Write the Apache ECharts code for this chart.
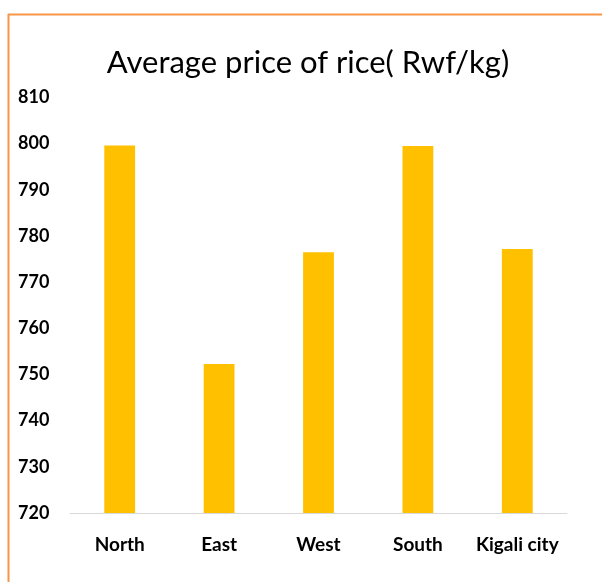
<!DOCTYPE html>
<html>
<head>
<meta charset="utf-8">
<script src="https://cdn.jsdelivr.net/npm/echarts@6/dist/echarts.min.js"></script>
<style>
  html, body { margin: 0; padding: 0; background: #fff; }
  #main { width: 602px; height: 582px; }
</style>
</head>
<body>
<div id="main"></div>
<script>
// regions and average rice price (Rwf/kg)
const regions = ['North', 'East', 'West', 'South', 'Kigali city'];
const prices = [799.6, 752.3, 776.5, 799.5, 777.2];

const chart = echarts.init(document.getElementById('main'));

const option = {
    backgroundColor: '#fff',
    animation: false,
    title: {
        text: 'Average price of rice( Rwf/kg)',
        left: 303,
        top: 42,
        textAlign: 'center',
        textStyle: {
            fontFamily: 'Lato',
            fontWeight: 'normal',
            fontSize: 31,
            color: '#000'
        }
    },
    // orange frame on top and left
    graphic: [
        { type: 'line', shape: { x1: 8, y1: 14.5, x2: 602, y2: 14.5 }, style: { stroke: '#F79646', lineWidth: 2 } },
        { type: 'line', shape: { x1: 8.5, y1: 14, x2: 8.5, y2: 582 }, style: { stroke: '#F79646', lineWidth: 2 } }
    ],
    grid: {
        left: 70,
        right: 35,
        top: 97.5,
        bottom: 69
    },
    xAxis: {
        type: 'category',
        data: regions,
        axisLine: { lineStyle: { color: '#d9d9d9', width: 1 } },
        axisTick: { show: false },
        axisLabel: {
            interval: 0,
            margin: 22,
            fontFamily: 'Lato',
            fontWeight: 'bold',
            fontSize: 19,
            color: '#000'
        }
    },
    yAxis: {
        type: 'value',
        min: 720,
        max: 810,
        interval: 10,
        splitLine: { show: false },
        axisLine: { show: false },
        axisTick: { show: false },
        axisLabel: {
            align: 'left',
            margin: 52,
            fontFamily: 'Lato',
            fontWeight: 'bold',
            fontSize: 18,
            color: '#000'
        }
    },
    series: [
        {
            name: 'Average price',
            type: 'bar',
            data: prices,
            barWidth: '31%',
            itemStyle: {
                color: '#FFC000'
            }
        }
    ]
};

chart.setOption(option);
</script>
</body>
</html>
